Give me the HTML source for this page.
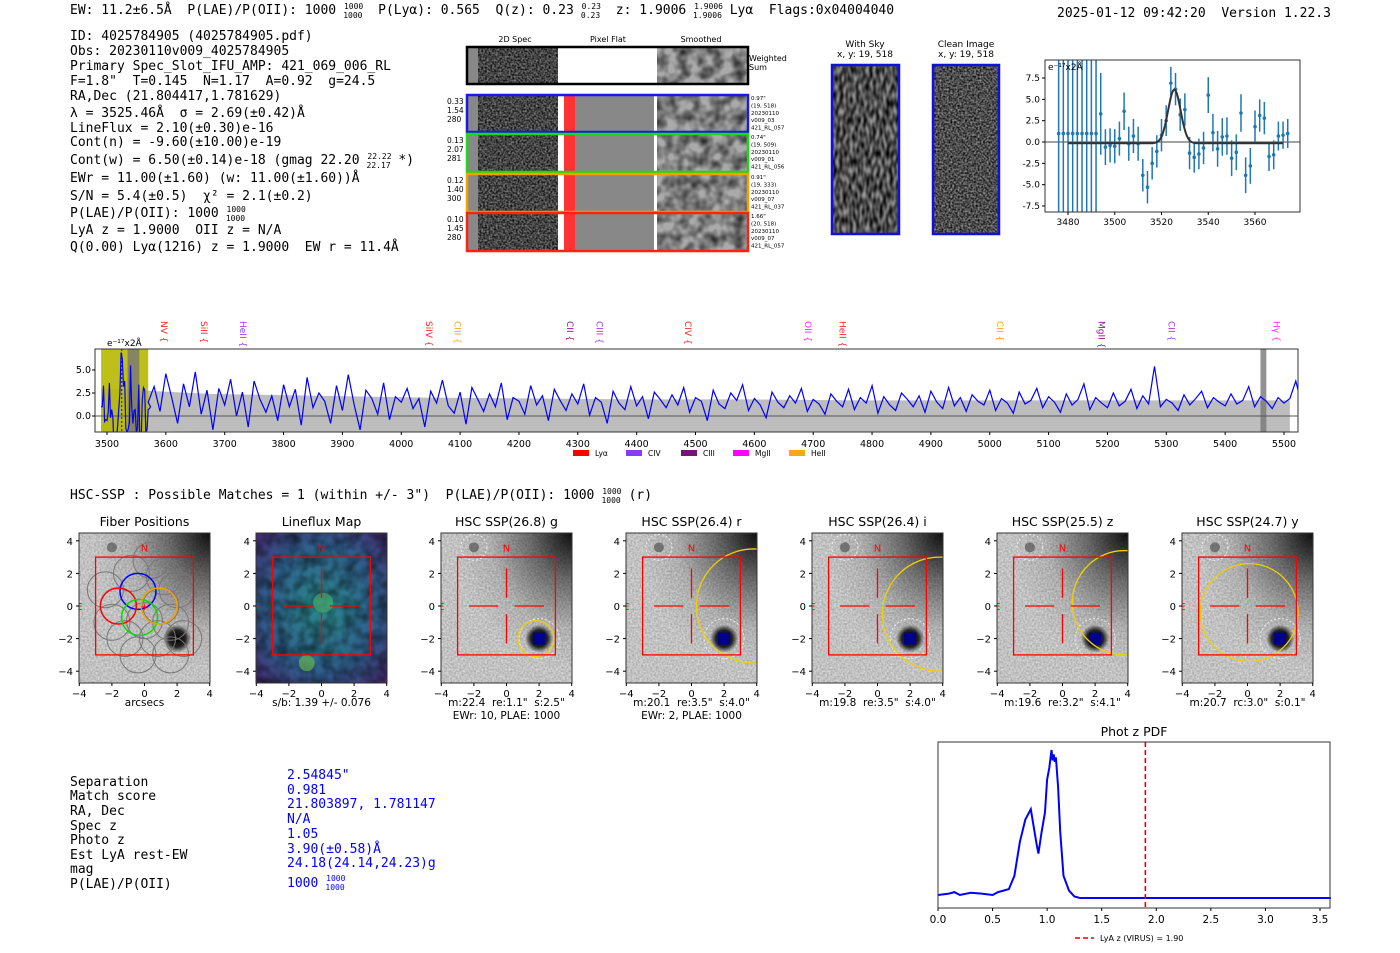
<!DOCTYPE html>
<html><head><meta charset="utf-8">
<style>
body{margin:0;background:#fff;width:1400px;height:953px;overflow:hidden}
svg{display:block}
text{white-space:pre}
.m{font-family:"DejaVu Sans Mono","Liberation Mono",monospace;font-size:13px;fill:#000}
.s{font-family:"DejaVu Sans","Liberation Sans",sans-serif;fill:#000}
</style></head><body>
<svg id="root" width="1400" height="953" viewBox="0 0 1400 953" xml:space="preserve">
<defs>
<filter id="noise" x="0" y="0" width="100%" height="100%"><feTurbulence type="fractalNoise" baseFrequency="0.55" numOctaves="1" seed="3"/><feColorMatrix type="matrix" values="0 0 0 0 0 0 0 0 0 0 0 0 0 0 0 0 0 0 -1.6 1.3"/></filter>
<filter id="smooth" x="0" y="0" width="100%" height="100%"><feTurbulence type="fractalNoise" baseFrequency="0.09" numOctaves="2" seed="7"/><feColorMatrix type="matrix" values="0 0 0 0 0 0 0 0 0 0 0 0 0 0 0 0 0 0 -1.3 0.9"/></filter>
<filter id="stripe" x="0" y="0" width="100%" height="100%"><feTurbulence type="fractalNoise" baseFrequency="0.3 0.12" numOctaves="1" seed="11"/><feColorMatrix type="matrix" values="0 0 0 0 0 0 0 0 0 0 0 0 0 0 0 0 0 0 -1.8 1.4"/></filter>
<radialGradient id="skyg" cx="1" cy="0" r="0.9"><stop offset="0" stop-color="#111"/><stop offset="0.35" stop-color="#777"/><stop offset="0.7" stop-color="#c8c8c8"/><stop offset="1" stop-color="#dedede"/></radialGradient>
<radialGradient id="lfg" cx="0.5" cy="0.5" r="0.7"><stop offset="0" stop-color="#2a8a8a"/><stop offset="0.6" stop-color="#2f5e8c"/><stop offset="1" stop-color="#452a70"/></radialGradient>
<radialGradient id="star" cx="0.5" cy="0.5" r="0.5"><stop offset="0" stop-color="#000"/><stop offset="0.6" stop-color="#222"/><stop offset="1" stop-color="#222" stop-opacity="0"/></radialGradient>
</defs>

<text class="m" x="70" y="14">EW: 11.2±6.5Å  P(LAE)/P(OII): 1000 <tspan font-size="8" dy="-5">1000</tspan><tspan font-size="8" dx="-20" dy="9">1000</tspan><tspan dy="-4">  P(Lyα): 0.565  Q(z): 0.23 </tspan><tspan font-size="8" dy="-5">0.23</tspan><tspan font-size="8" dx="-20" dy="9">0.23</tspan><tspan dy="-4">  z: 1.9006 </tspan><tspan font-size="8" dy="-5">1.9006</tspan><tspan font-size="8" dx="-30" dy="9">1.9006</tspan><tspan dy="-4"> Lyα  Flags:0x04004040</tspan></text>
<text class="m" x="1057" y="17">2025-01-12 09:42:20  Version 1.22.3</text>

<g>
<text class="m" x="70" y="40">ID: 4025784905 (4025784905.pdf)</text>
<text class="m" x="70" y="55">Obs: 20230110v009_4025784905</text>
<text class="m" x="70" y="70">Primary Spec_Slot_IFU_AMP: 421_069_006_RL</text>
<text class="m" x="70" y="85">F=1.8"  T=0.145  N=1.17  A=0.92  g=24.5</text>
<text class="m" x="70" y="100">RA,Dec (21.804417,1.781629)</text>
<text class="m" x="70" y="117">λ = 3525.46Å  σ = 2.69(±0.42)Å</text>
<text class="m" x="70" y="132">LineFlux = 2.10(±0.30)e-16</text>
<text class="m" x="70" y="146">Cont(n) = -9.60(±10.00)e-19</text>
<text class="m" x="70" y="164">Cont(w) = 6.50(±0.14)e-18 (gmag 22.20 <tspan font-size="8" dy="-5">22.22</tspan><tspan font-size="8" dx="-25" dy="9">22.17</tspan><tspan dy="-4"> *)</tspan></text>
<text class="m" x="70" y="182">EWr = 11.00(±1.60) (w: 11.00(±1.60))Å</text>
<text class="m" x="70" y="200">S/N = 5.4(±0.5)  χ² = 2.1(±0.2)</text>
<text class="m" x="70" y="217">P(LAE)/P(OII): 1000 <tspan font-size="8" dy="-5">1000</tspan><tspan font-size="8" dx="-20" dy="9">1000</tspan></text>
<text class="m" x="70" y="234">LyA z = 1.9000  OII z = N/A</text>
<text class="m" x="70" y="251">Q(0.00) Lyα(1216) z = 1.9000  EW r = 11.4Å</text>
</g>

<g id="spec2d" class="s">
<text x="515" y="42" font-size="8" text-anchor="middle">2D Spec</text>
<text x="608" y="42" font-size="8" text-anchor="middle">Pixel Flat</text>
<text x="701" y="42" font-size="8" text-anchor="middle">Smoothed</text>
<text x="749" y="61" font-size="8">Weighted</text><text x="749" y="70" font-size="8">Sum</text>
</g>

<g class="s">
<text x="865" y="47" font-size="9" text-anchor="middle">With Sky</text>
<text x="865" y="57" font-size="9" text-anchor="middle">x, y: 19, 518</text>
<text x="966" y="47" font-size="9" text-anchor="middle">Clean Image</text>
<text x="966" y="57" font-size="9" text-anchor="middle">x, y: 19, 518</text>
<rect x="832" y="65" width="67" height="169" fill="#999"/>
<rect x="832" y="65" width="67" height="169" fill="#888" filter="url(#stripe)"/>
<rect x="832" y="65" width="67" height="169" fill="none" stroke="#1010e0" stroke-width="2.5"/>
<rect x="933" y="65" width="66" height="169" fill="#999"/>
<rect x="933" y="65" width="66" height="169" fill="#888" filter="url(#noise)"/>
<rect x="933" y="65" width="66" height="169" fill="none" stroke="#1010e0" stroke-width="2.5"/>
</g>

<g id="fitplot" class="s"></g>
<g id="mainspec" class="s"></g>

<text class="m" x="70" y="499">HSC-SSP : Possible Matches = 1 (within +/- 3")  P(LAE)/P(OII): 1000 <tspan font-size="8" dy="-5">1000</tspan><tspan font-size="8" dx="-20" dy="9">1000</tspan><tspan dy="-4"> (r)</tspan></text>

<g id="cutouts" class="s"></g>

<g>
<text class="m" x="70" y="786">Separation</text><text class="m" x="287" y="779" style="fill:#00f">2.54845"</text>
<text class="m" x="70" y="800">Match score</text><text class="m" x="287" y="794" style="fill:#00f">0.981</text>
<text class="m" x="70" y="815">RA, Dec</text><text class="m" x="287" y="808" style="fill:#00f">21.803897, 1.781147</text>
<text class="m" x="70" y="830">Spec z</text><text class="m" x="287" y="823" style="fill:#00f">N/A</text>
<text class="m" x="70" y="844">Photo z</text><text class="m" x="287" y="838" style="fill:#00f">1.05</text>
<text class="m" x="70" y="859">Est LyA rest-EW</text><text class="m" x="287" y="853" style="fill:#00f">3.90(±0.58)Å</text>
<text class="m" x="70" y="873">mag</text><text class="m" x="287" y="867" style="fill:#00f">24.18(24.14,24.23)g</text>
<text class="m" x="70" y="888">P(LAE)/P(OII)</text><text class="m" x="287" y="887" style="fill:#00f">1000 <tspan font-size="8" dy="-6">1000</tspan><tspan font-size="8" dx="-20" dy="9">1000</tspan></text>
</g>

<g id="pdfplot" class="s"></g>
</svg>

<script>
const fitWave = [3476,3478,3480,3482,3484,3486,3488,3490,3492,3494,3496,3498,3500,3502,3504,3506,3508,3510,3512,3514,3516,3518,3520,3522,3524,3526,3528,3530,3532,3534,3536,3538,3540,3542,3544,3546,3548,3550,3552,3554,3556,3558,3560,3562,3564,3566,3568,3570,3572,3574];
const fitFlux = [1.0,1.0,1.0,1.0,1.0,1.0,1.0,1.0,1.0,3.3,-0.6,-0.4,-0.5,0.4,3.6,-0.2,0.7,-0.2,-3.9,-5.3,-2.5,-1.1,0.8,2.5,6.9,6.2,3.2,3.8,-1.3,-1.8,-1.4,-0.7,5.5,1.1,-0.8,0.6,0.7,-1.9,-1.2,3.4,-3.9,-2.8,1.8,3.1,2.8,-1.7,-1.5,0.7,0.8,1.0];
const fitErr = [30,30,30,30,30,30,30,30,30,4.8,2.1,2.0,2.0,2.0,2.2,2.0,2.0,2.0,1.9,1.9,1.9,1.9,1.9,1.8,1.9,1.9,1.9,1.9,1.9,1.8,1.8,1.9,2.1,2.2,2.1,2.2,2.2,2.1,2.1,2.2,2.1,2.1,1.9,1.9,1.9,1.7,1.7,1.7,1.6,1.7];
const fitModel = {amp:6.3, mu:3525.5, sigma:2.69, base:-0.15};
const fitXTicks = [3480,3500,3520,3540,3560];
const fitYTicks = [-7.5,-5.0,-2.5,0.0,2.5,5.0,7.5];

const specStart = 3570, specStep = 10;
const specFlux = [1.5,3.2,0.5,4.6,2.0,-0.8,3.5,1.0,4.8,0.2,2.8,-1.5,3.0,1.2,4.0,0.0,2.6,-1.2,3.8,1.8,0.4,2.2,-0.5,3.4,1.0,2.9,-1.0,4.2,0.9,2.5,1.6,-0.8,3.3,0.6,4.5,1.2,-1.5,2.8,1.9,0.2,3.6,-0.4,2.1,1.5,3.0,0.8,1.9,-1.2,2.7,1.4,3.9,1.1,0.3,2.6,-0.9,3.1,1.8,0.5,2.4,1.0,3.6,-0.4,2.0,1.6,0.2,3.3,1.2,2.2,-0.5,2.9,1.7,0.6,2.4,1.3,3.5,0.1,2.0,1.5,-0.8,2.7,1.4,0.7,3.2,1.1,2.1,-0.3,2.6,1.8,0.9,2.3,1.2,3.1,0.4,2.0,1.6,-0.5,2.8,1.3,0.8,2.5,1.7,3.4,0.6,1.9,1.2,-0.2,2.6,1.5,0.9,2.2,1.4,3.0,0.5,1.8,1.3,0.2,2.4,1.6,1.0,2.9,0.7,2.0,1.4,3.3,0.3,2.1,1.2,0.6,2.5,1.8,1.0,2.2,0.4,2.7,1.5,0.8,3.1,1.1,2.0,0.5,2.3,1.6,1.2,2.8,0.6,1.9,1.4,0.3,2.6,1.3,1.7,3.0,0.9,2.1,1.5,0.4,2.4,1.2,1.8,3.5,0.7,2.0,1.4,0.9,2.5,1.1,1.6,2.9,0.8,2.2,1.3,5.4,1.0,1.8,1.4,0.6,2.3,1.2,1.9,2.7,0.9,2.0,1.5,1.1,2.4,1.3,1.7,3.2,1.0,2.1,1.6,0.8,2.0,1.4,1.9,3.8,1.2];
const errUpper = [3.0,2.4,2.2,2.0,1.9,1.8,1.8,1.7,1.7,1.7,1.7,1.7];
const errLower = [-1.6,-1.7,-1.8,-1.8,-1.8,-1.8,-1.8,-1.8,-1.8,-1.8,-1.8,-1.8];
const specXTicks = [3500,3600,3700,3800,3900,4000,4100,4200,4300,4400,4500,4600,4700,4800,4900,5000,5100,5200,5300,5400,5500];
const specYTicks = [0.0,2.5,5.0];
const lineNames = ["NV","SiII","HeII","SiIV","CIII","CII","CIII","CIV","OII","HeII","CII","MgII","CII","Hγ"];
const lineWaves = [3597,3665,3731,4047,4096,4287,4337,4487,4691,4750,5017,5190,5309,5487];
const lineColors = ["#f22","#f22","#9a3df0","#f22","#f5a623","#8a1a8a","#9a3df0","#f22","#f2f","#f22","#f5a623","#8a1a8a","#9a3df0","#f2f"];
const legendNames = ["Lyα","CIV","CIII","MgII","HeII"];
const legendColors = ["#f00","#8a3df0","#7a127a","#f0f","#f5a623"];

const pdfZ = [0,0.1,0.15,0.2,0.3,0.4,0.5,0.55,0.6,0.65,0.7,0.75,0.8,0.85,0.9,0.92,0.95,0.98,1.0,1.02,1.04,1.05,1.06,1.07,1.08,1.1,1.12,1.15,1.2,1.25,1.3,1.5,2,2.5,3,3.6];
const pdfP = [0.02,0.03,0.04,0.02,0.035,0.03,0.02,0.04,0.05,0.06,0.15,0.38,0.53,0.6,0.38,0.3,0.45,0.58,0.8,0.88,1.0,0.93,0.97,0.92,0.95,0.75,0.45,0.15,0.05,0.01,0.0,0.0,0.0,0.0,0.0,0.0];
const pdfXTicks = [0.0,0.5,1.0,1.5,2.0,2.5,3.0,3.5];
const pdfLineZ = 1.90;

const cutTitles = ["Fiber Positions","Lineflux Map","HSC SSP(26.8) g","HSC SSP(26.4) r","HSC SSP(26.4) i","HSC SSP(25.5) z","HSC SSP(24.7) y"];
const cutCaption1 = ["arcsecs","s/b: 1.39 +/- 0.076","m:22.4  re:1.1\"  s:2.5\"","m:20.1  re:3.5\"  s:4.0\"","m:19.8  re:3.5\"  s:4.0\"","m:19.6  re:3.2\"  s:4.1\"","m:20.7  rc:3.0\"  s:0.1\""];
const cutCaption2 = ["","","EWr: 10, PLAE: 1000","EWr: 2, PLAE: 1000","","",""];
const cutTicks = [-4,-2,0,2,4];
const ellipseR = [0,0,1.1,3.5,3.5,3.2,3.0];
const ellipseX = [0,0,1.8,3.8,3.8,3.8,0.1];
const ellipseY = [0,0,-2.0,0.0,-0.5,0.2,-0.4];

const NS="http://www.w3.org/2000/svg";
function mk(parent,tag,attrs,txt){const e=document.createElementNS(NS,tag);for(const k in attrs)e.setAttribute(k,attrs[k]);if(txt!==undefined)e.textContent=txt;parent.appendChild(e);return e;}

(function(){
 const g=document.getElementById('spec2d');
 const rows=[{y:47,h:37,c:"#000"},{y:95,h:37,c:"#1a1ae0"},{y:134,h:38,c:"#19d919"},{y:174,h:38,c:"#f5a000"},{y:213,h:38,c:"#f21"}];
 const lab=[null,["0.33","1.54","280"],["0.13","2.07","281"],["0.12","1.40","300"],["0.10","1.45","280"]];
 const info=[null,["0.97\"","(19, 518)","20230110","v009_03","421_RL_057"],["0.74\"","(19, 509)","20230110","v009_01","421_RL_056"],["0.91\"","(19, 333)","20230110","v009_07","421_RL_037"],["1.66\"","(20, 518)","20230110","v009_07","421_RL_057"]];
 rows.forEach((r,i)=>{
  const grp=mk(g,'g',{});
  
  
  mk(grp,'rect',{x:468,y:r.y,width:279,height:r.h,fill:'#888'});
  mk(grp,'rect',{x:478,y:r.y,width:80,height:r.h,fill:'#888',filter:'url(#noise)'});
  mk(grp,'rect',{x:657,y:r.y,width:90,height:r.h,fill:'#aaa'});
  mk(grp,'rect',{x:657,y:r.y,width:90,height:r.h,fill:'#777',filter:'url(#smooth)'});
  if(i===0){mk(grp,'rect',{x:558,y:r.y,width:99,height:r.h,fill:'#fff'});}
  else{mk(grp,'rect',{x:558,y:r.y,width:6,height:r.h,fill:'#fff'});mk(grp,'rect',{x:564,y:r.y,width:11,height:r.h,fill:'#f33'});mk(grp,'rect',{x:654,y:r.y,width:3,height:r.h,fill:'#fff'});}
  mk(grp,'rect',{x:467,y:r.y,width:281,height:r.h,fill:'none',stroke:r.c,'stroke-width':2.5});
  if(lab[i]) lab[i].forEach((t,k)=>mk(grp,'text',{x:447,y:r.y+9+k*9,'font-size':7.5},t));
  if(info[i]) info[i].forEach((t,k)=>mk(grp,'text',{x:751,y:r.y+5+k*7.4,'font-size':5.5},t));
 });
})();

(function(){
 const g=document.getElementById('fitplot');
 const L=1045,R=1300,T=60,B=212;
 const X=w=>1068+(w-3480)*(187/80);
 const Y=v=>142-v*8.53;
 const cp=mk(g,'clipPath',{id:'fitclip'});mk(cp,'rect',{x:L,y:T,width:R-L,height:B-T});
 const inner=mk(g,'g',{'clip-path':'url(#fitclip)'});
 mk(inner,'line',{x1:L,x2:R,y1:Y(0),y2:Y(0),stroke:'#444','stroke-width':1});
 fitWave.forEach((w,i)=>{
  const e=mk(inner,'line',{x1:X(w),x2:X(w),y1:Y(fitFlux[i]+fitErr[i]),y2:Y(fitFlux[i]-fitErr[i]),stroke:'#1f77b4','stroke-width':1.5});
  
  
  const p=mk(inner,'circle',{cx:X(w),cy:Y(fitFlux[i]),r:1.8,fill:'#1f77b4'});
  
  
 });
 let d='';for(let w=3480;w<=3572;w+=0.5){const v=fitModel.base+fitModel.amp*Math.exp(-0.5*Math.pow((w-fitModel.mu)/fitModel.sigma,2));d+=(d?'L':'M')+X(w).toFixed(1)+','+Y(v).toFixed(1);}
 const m=mk(inner,'path',{d:d,fill:'none',stroke:'#333','stroke-width':2});
 
 
 mk(g,'rect',{x:L,y:T,width:R-L,height:B-T,fill:'none',stroke:'#333','stroke-width':1});
 fitXTicks.forEach(t=>{mk(g,'line',{x1:X(t),x2:X(t),y1:B,y2:B+3,stroke:'#000'});mk(g,'text',{x:X(t),y:B+13,'font-size':9,'text-anchor':'middle'},t);});
 fitYTicks.forEach(t=>{mk(g,'line',{x1:L-3,x2:L,y1:Y(t),y2:Y(t),stroke:'#000'});mk(g,'text',{x:L-5,y:Y(t)+3,'font-size':9,'text-anchor':'end'},t.toFixed(1));});
 mk(g,'text',{x:L+3,y:T+10,'font-size':9},'e⁻¹⁷x2Å');
})();

(function(){
 const g=document.getElementById('mainspec');
 const L=95,R=1298,T=349,B=432;
 const X=w=>107+(w-3500)*(1177/2000);
 const Y=v=>416-v*9.2;
 const cp=mk(g,'clipPath',{id:'specclip'});mk(cp,'rect',{x:L,y:T,width:R-L,height:B-T});
 const inner=mk(g,'g',{'clip-path':'url(#specclip)'});
 const n=errUpper.length, span=(5510-3490)/(n-1);
 let d='';for(let i=0;i<n;i++){d+=(i?'L':'M')+X(3490+i*span).toFixed(1)+','+Y(errUpper[i]).toFixed(1);}
 for(let i=n-1;i>=0;i--){d+='L'+X(3490+i*span).toFixed(1)+','+Y(errLower[i]).toFixed(1);}
 const band=mk(inner,'path',{d:d+'Z',fill:'#bdbdbd'});
 
 
 mk(inner,'rect',{x:X(3490),y:T,width:X(3570)-X(3490),height:B-T,fill:'#b8b800','opacity':0.9});
 mk(inner,'rect',{x:X(3535),y:T,width:X(3555)-X(3535),height:B-T,fill:'#777','opacity':0.8});
 mk(inner,'rect',{x:X(5460),y:T,width:X(5470)-X(5460),height:B-T,fill:'#777','opacity':0.8});
 mk(inner,'line',{x1:X(3525),x2:X(3525),y1:T,y2:B,stroke:'#222','stroke-dasharray':'2,2'});
 mk(inner,'line',{x1:L,x2:R,y1:Y(0),y2:Y(0),stroke:'#555','stroke-width':1});
 let dd='';fitWave.forEach((w,i)=>{if(w>=3490)dd+=(dd?'L':'M')+X(w).toFixed(1)+','+Y(fitFlux[i]).toFixed(1);});
 specFlux.forEach((v,i)=>{dd+='L'+X(specStart+i*specStep).toFixed(1)+','+Y(v).toFixed(1);});
 const line=mk(inner,'path',{d:dd,fill:'none',stroke:'#0000ff','stroke-width':1.2});
 
 
 mk(g,'rect',{x:L,y:T,width:R-L,height:B-T,fill:'none',stroke:'#333','stroke-width':1});
 specXTicks.forEach(t=>{mk(g,'line',{x1:X(t),x2:X(t),y1:B,y2:B+3,stroke:'#000'});mk(g,'text',{x:X(t),y:B+15,'font-size':9.5,'text-anchor':'middle'},t);});
 specYTicks.forEach(t=>{mk(g,'line',{x1:L-3,x2:L,y1:Y(t),y2:Y(t),stroke:'#000'});mk(g,'text',{x:L-4,y:Y(t)+3,'font-size':9.5,'text-anchor':'end'},t.toFixed(1));});
 mk(g,'text',{x:107,y:346,'font-size':9},'e⁻¹⁷x2Å');
 lineNames.forEach((nm,i)=>{
  const x=X(lineWaves[i]);
  const t=mk(g,'text',{x:0,y:0,'font-size':9,fill:lineColors[i],transform:'translate('+(x-3)+',321) rotate(90)'},nm+' {');
  
  
 });
 const lx=[573,626,681,733,789];
 legendNames.forEach((nm,i)=>{
  const r=mk(g,'rect',{x:lx[i],y:450,width:16,height:6,fill:legendColors[i]});
  
  
  mk(g,'text',{x:lx[i]+22,y:456,'font-size':7.5},nm);
 });
})();

(function(){
 const g=document.getElementById('cutouts');
 const lefts=[79,256,441,626,812,997,1182];
 const S=16.3, top=533, H=150, W=131;
 lefts.forEach((L,i)=>{
  const grp=mk(g,'g',{});
  
  
  const cx=L+W/2, cy=top+H/2-2;
  const X=a=>cx+a*S, Y=a=>cy-a*S;
  const cpid='cc'+i; const cp=mk(grp,'clipPath',{id:cpid}); mk(cp,'rect',{x:L,y:top,width:W,height:H});
  const inner=mk(grp,'g',{'clip-path':'url(#'+cpid+')'});
  if(i===1){
   mk(inner,'rect',{x:L,y:top,width:W,height:H,fill:'url(#lfg)'});
   mk(inner,'rect',{x:L,y:top,width:W,height:H,fill:'#3b1f6a',filter:'url(#smooth)',opacity:0.7});
   mk(inner,'circle',{cx:X(0.1),cy:Y(0.2),r:10,fill:'#4fb06a',opacity:0.6});
   mk(inner,'circle',{cx:X(-0.9),cy:Y(-3.5),r:8,fill:'#6cc04a',opacity:0.6});
  } else {
   mk(inner,'rect',{x:L,y:top,width:W,height:H,fill:'url(#skyg)'});
   mk(inner,'rect',{x:L,y:top,width:W,height:H,fill:'#999',filter:'url(#noise)',opacity:0.25});
   mk(inner,'circle',{cx:X(-2),cy:Y(3.6),r:5,fill:'#444',opacity:0.6});
   mk(inner,'circle',{cx:X(2),cy:Y(-2),r:14,fill:'url(#star)'});
   if(i>=2) mk(inner,'rect',{x:X(2)-6,y:Y(-2)-6,width:12,height:12,fill:'#00008b'});
  }
  if(i===0){
   const fib=[[-2.4,1],[-1.6,0],[-2,-1],[-1.2,-2],[-0.4,-3],[-0.8,2],[0.4,2.8],[1.2,1.8],[2,1],[1,0],[1.6,-1],[0.8,-2],[1.6,-3],[2.4,-2],[0,-0.9],[-0.4,0.9]];
   fib.forEach(f=>mk(inner,'circle',{cx:X(f[0]),cy:Y(f[1]),r:18,fill:'none',stroke:'#777','stroke-width':1}));
   [[-0.4,0.9,'#00f'],[-1.6,0,'#f00'],[-0.3,-0.7,'#0d0'],[0.9,0,'#f5a000']].forEach(f=>mk(inner,'circle',{cx:X(f[0]),cy:Y(f[1]),r:18,fill:'none',stroke:f[2],'stroke-width':1.5}));
  }
  if(i>=2){
   mk(inner,'circle',{cx:X(-2),cy:Y(3.6),r:13,fill:'none',stroke:'#eee','stroke-dasharray':'2,2'});
   mk(inner,'circle',{cx:X(2),cy:Y(-2),r:20,fill:'none',stroke:'#eee','stroke-dasharray':'2,2'});
   const e=mk(inner,'circle',{cx:X(ellipseX[i]),cy:Y(ellipseY[i]),r:ellipseR[i]*S,fill:'none',stroke:'#f0d000','stroke-width':1.3});
   
   
  }
  mk(inner,'rect',{x:X(-3),y:Y(3),width:6*S,height:6*S,fill:'none',stroke:'#f00','stroke-width':1.3});
  if(i>0){[[0.5,2.3],[-2.3,-0.5]].forEach(s=>{mk(inner,'line',{x1:X(s[0]),x2:X(s[1]),y1:Y(0),y2:Y(0),stroke:'#f00','stroke-width':1.3});mk(inner,'line',{x1:X(0),x2:X(0),y1:Y(s[0]),y2:Y(s[1]),stroke:'#f00','stroke-width':1.3});});}
  mk(inner,'text',{x:X(0),y:Y(3.6)+4,'font-size':10,fill:'#f00','text-anchor':'middle'},'N');
  mk(inner,'text',{x:X(-4),y:Y(0)+4,'font-size':10,fill:'#f00','text-anchor':'middle'},'E');
  if(i===0) mk(inner,'text',{x:X(0),y:Y(0)+4,'font-size':10,fill:'#f00','text-anchor':'middle'},'+');
  mk(grp,'rect',{x:L,y:top,width:W,height:H,fill:'none',stroke:'#333','stroke-width':1});
  cutTicks.forEach(t=>{
   mk(grp,'line',{x1:X(t),x2:X(t),y1:top+H,y2:top+H+3,stroke:'#000'});
   mk(grp,'text',{x:X(t),y:top+H+14,'font-size':10,'text-anchor':'middle'},t===0?'0':(t<0?'−'+(-t):t));
   mk(grp,'line',{x1:L-3,x2:L,y1:Y(t),y2:Y(t),stroke:'#000'});
   mk(grp,'text',{x:L-6,y:Y(t)+4,'font-size':10,'text-anchor':'end'},t===0?'0':(t<0?'−'+(-t):t));
  });
  mk(grp,'text',{x:cx,y:526,'font-size':12.5,'text-anchor':'middle'},cutTitles[i]);
  mk(grp,'text',{x:cx,y:706,'font-size':10.5,'text-anchor':'middle'},cutCaption1[i]);
  if(cutCaption2[i]) mk(grp,'text',{x:cx,y:719,'font-size':10.5,'text-anchor':'middle'},cutCaption2[i]);
 });
})();

(function(){
 const g=document.getElementById('pdfplot');
 const L=938,R=1330,T=742,B=908;
 const X=z=>938+z*(382/3.5);
 const Y=p=>898-p*148;
 mk(g,'text',{x:1134,y:736,'font-size':12.5,'text-anchor':'middle'},'Phot z PDF');
 let d='';pdfZ.forEach((z,i)=>{d+=(i?'L':'M')+X(z).toFixed(1)+','+Y(pdfP[i]).toFixed(1);});
 const p=mk(g,'path',{d:d,fill:'none',stroke:'#0000ff','stroke-width':2});
 
 
 const v=mk(g,'line',{x1:X(pdfLineZ),x2:X(pdfLineZ),y1:T,y2:B,stroke:'#e00','stroke-width':1.6,'stroke-dasharray':'5,3'});
 
 
 mk(g,'rect',{x:L,y:T,width:R-L,height:B-T,fill:'none',stroke:'#333','stroke-width':1});
 pdfXTicks.forEach(t=>{mk(g,'line',{x1:X(t),x2:X(t),y1:B,y2:B+3,stroke:'#000'});mk(g,'text',{x:X(t),y:B+15,'font-size':10.5,'text-anchor':'middle'},t.toFixed(1));});
 mk(g,'line',{x1:1075,x2:1094,y1:938,y2:938,stroke:'#e00','stroke-width':1.6,'stroke-dasharray':'5,3'});
 const lt=mk(g,'text',{x:1100,y:941,'font-size':8},'LyA z (VIRUS) = 1.90');
 
 
})();
</script>
</body></html>
